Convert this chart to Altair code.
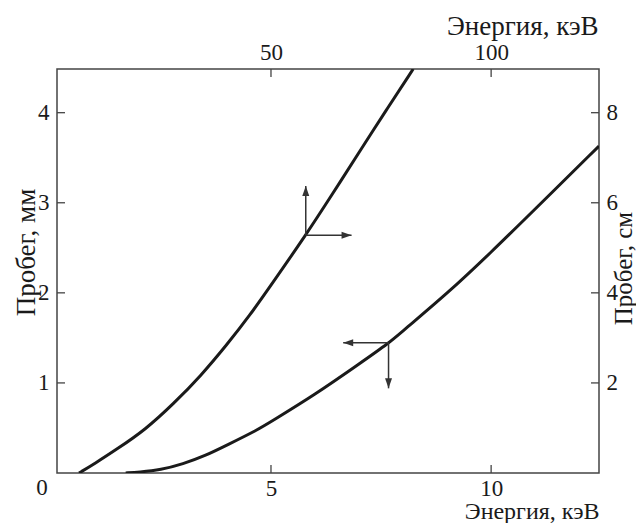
import altair as alt
import pandas as pd

# Lower curve: bottom axis (keV) vs left axis (mm)
lower_e = [1.7, 2.0, 2.5, 3.0, 3.5, 4.0, 4.7, 5.0, 6.0, 7.0, 7.7, 8.0, 9.0, 10.0, 11.0, 12.45]
lower_r = [0.0, 0.01, 0.035, 0.10, 0.19, 0.31, 0.48, 0.57, 0.87, 1.21, 1.45, 1.58, 1.99, 2.45, 2.93, 3.63]

# Upper curve: top axis (keV) vs right axis (cm)
upper_e = [6.4, 10, 15, 21.4, 28, 34, 40, 45.2, 50, 57.9, 64, 70.2, 76, 82.3]
upper_r = [0.0, 0.21, 0.53, 0.955, 1.55, 2.15, 2.85, 3.5, 4.17, 5.28, 6.2, 7.15, 8.03, 8.97]

bottom_ticks = [5, 10]
top_ticks = [50, 100]
left_ticks = [1, 2, 3, 4]
right_ticks = [2, 4, 6, 8]

# Arrow definitions (origin on curve, tip)
low_arrow = {"x": 7.67, "y": 1.446, "x_tip": 6.64, "y_tip": 0.94}
up_arrow = {"x": 57.9, "y": 5.28, "x_tip": 68.3, "y_tip": 6.37}

X_LOW = [0.14, 12.45]
Y_LOW = [0, 4.485]
X_TOP = [1.4, 124.5]
Y_RIGHT = [0, 8.97]

W, H = 542, 404
FONT = "Liberation Serif"
FS = 23
TFS = 27
INK = "#1a1a1a"
ARROW = "#333333"
TICK = 8
ARROW_SHAPE = "M0,-1L0.7,1L-0.7,1Z"

df_low = pd.DataFrame({"e": lower_e, "r": lower_r})
df_up = pd.DataFrame({"e": upper_e, "r": upper_r})

xs_low = alt.Scale(domain=X_LOW, nice=False, zero=False)
ys_low = alt.Scale(domain=Y_LOW, nice=False, zero=False)
xs_top = alt.Scale(domain=X_TOP, nice=False, zero=False)
ys_right = alt.Scale(domain=Y_RIGHT, nice=False, zero=False)

ax_bottom = alt.Axis(orient="bottom", values=bottom_ticks, ticks=False, domain=False, grid=False,
                     labelPadding=4, title="Энергия, кэВ", titleX=W, titleAlign="right",
                     titleY=45, titleBaseline="alphabetic", titleFontSize=24)
ax_left = alt.Axis(orient="left", values=left_ticks, ticks=False, domain=False, grid=False,
                   labelPadding=8, title="Пробег, мм", titleX=-31, titleY=183,
                   titleBaseline="middle", titleAngle=270)
ax_top = alt.Axis(orient="top", values=top_ticks, ticks=False, domain=False, grid=False,
                  labelPadding=5, title="Энергия, кэВ", titleX=W - 1, titleAlign="right",
                  titleY=-43, titleBaseline="middle")
ax_right = alt.Axis(orient="right", values=right_ticks, ticks=False, domain=False, grid=False,
                    labelPadding=7, title="Пробег, см", titleX=24, titleY=199, titleFontSize=25,
                    titleBaseline="middle", titleAngle=270)

XA = dict(scale=xs_low, axis=ax_bottom)
YA = dict(scale=ys_low, axis=ax_left)
XB = dict(scale=xs_top, axis=ax_top)
YB = dict(scale=ys_right, axis=ax_right)

# ---------- layer A: bottom / left ----------
line_low = alt.Chart(df_low).mark_line(color=INK, strokeWidth=3, interpolate="basis", clip=True).encode(
    x=alt.X("e:Q", **XA), y=alt.Y("r:Q", **YA))

bt = alt.Chart(pd.DataFrame({"v": bottom_ticks})).mark_rule(color="#444", strokeWidth=1.3).encode(
    x=alt.X("v:Q", **XA), y=alt.value(H), y2=alt.value(H - TICK))
lt = alt.Chart(pd.DataFrame({"v": left_ticks})).mark_rule(color="#444", strokeWidth=1.3).encode(
    y=alt.Y("v:Q", **YA), x=alt.value(0), x2=alt.value(TICK))

la_df = pd.DataFrame([low_arrow])
la_h = alt.Chart(la_df).mark_rule(color=ARROW, strokeWidth=1.5).encode(
    x=alt.X("x:Q", **XA), x2="x_tip:Q", y=alt.Y("y:Q", **YA))
la_v = alt.Chart(la_df).mark_rule(color=ARROW, strokeWidth=1.5).encode(
    x=alt.X("x:Q", **XA), y=alt.Y("y:Q", **YA), y2="y_tip:Q")
la_hl = alt.Chart(la_df).mark_point(shape=ARROW_SHAPE, filled=True, color=ARROW, opacity=1,
                                    size=100, angle=270, xOffset=5).encode(
    x=alt.X("x_tip:Q", **XA), y=alt.Y("y:Q", **YA))
la_hd = alt.Chart(la_df).mark_point(shape=ARROW_SHAPE, filled=True, color=ARROW, opacity=1,
                                    size=100, angle=180, yOffset=-5).encode(
    x=alt.X("x:Q", **XA), y=alt.Y("y_tip:Q", **YA))

zero_lbl = alt.Chart(pd.DataFrame({"t": ["0"]})).mark_text(
    font=FONT, fontSize=FS, color=INK, align="center", baseline="middle").encode(
    text="t:N", x=alt.value(-15), y=alt.value(419))

layer_a = alt.layer(line_low, bt, lt, la_h, la_v, la_hl, la_hd, zero_lbl)

# ---------- layer B: top / right ----------
line_up = alt.Chart(df_up).mark_line(color=INK, strokeWidth=3, interpolate="basis", clip=True).encode(
    x=alt.X("e:Q", **XB), y=alt.Y("r:Q", **YB))

tt = alt.Chart(pd.DataFrame({"v": top_ticks})).mark_rule(color="#444", strokeWidth=1.3).encode(
    x=alt.X("v:Q", **XB), y=alt.value(0), y2=alt.value(TICK))
rt = alt.Chart(pd.DataFrame({"v": right_ticks})).mark_rule(color="#444", strokeWidth=1.3).encode(
    y=alt.Y("v:Q", **YB), x=alt.value(W), x2=alt.value(W - TICK))

ua_df = pd.DataFrame([up_arrow])
ua_h = alt.Chart(ua_df).mark_rule(color=ARROW, strokeWidth=1.5).encode(
    x=alt.X("x:Q", **XB), x2="x_tip:Q", y=alt.Y("y:Q", **YB))
ua_v = alt.Chart(ua_df).mark_rule(color=ARROW, strokeWidth=1.5).encode(
    x=alt.X("x:Q", **XB), y=alt.Y("y:Q", **YB), y2="y_tip:Q")
ua_hr = alt.Chart(ua_df).mark_point(shape=ARROW_SHAPE, filled=True, color=ARROW, opacity=1,
                                    size=100, angle=90, xOffset=-5).encode(
    x=alt.X("x_tip:Q", **XB), y=alt.Y("y:Q", **YB))
ua_hu = alt.Chart(ua_df).mark_point(shape=ARROW_SHAPE, filled=True, color=ARROW, opacity=1,
                                    size=100, angle=0, yOffset=5).encode(
    x=alt.X("x:Q", **XB), y=alt.Y("y_tip:Q", **YB))

layer_b = alt.layer(line_up, tt, rt, ua_h, ua_v, ua_hr, ua_hu)

chart = alt.layer(layer_a, layer_b).resolve_scale(x="independent", y="independent").properties(
    width=W, height=H,
    autosize=alt.AutoSizeParams(type="none"),
    padding={"left": 49, "top": 61, "right": 37, "bottom": 50},
    background="white",
).configure_view(stroke="#444", strokeWidth=1.5).configure_axis(
    labelFont=FONT, labelFontSize=FS, labelColor=INK, titleFont=FONT, titleFontSize=TFS,
    titleColor=INK, titleFontWeight="normal",
)

chart.save("out.html", embed_options={"renderer": "svg", "actions": False})
